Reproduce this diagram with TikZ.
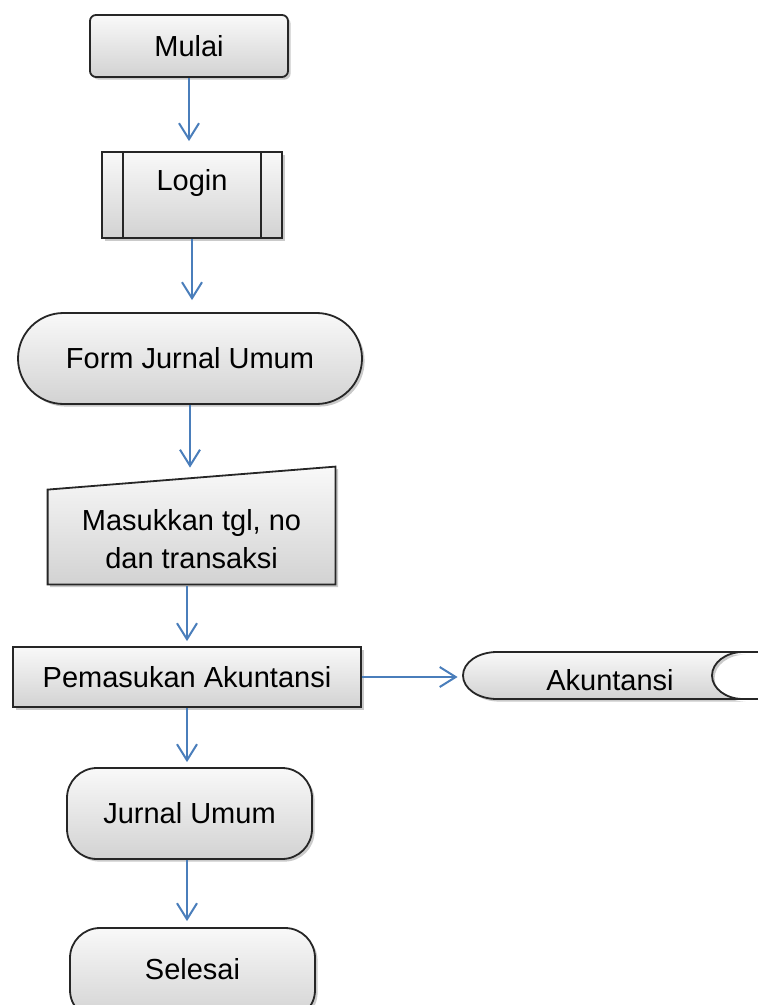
\documentclass[tikz,border=0pt]{standalone}
\usepackage{fontspec}
\setmainfont{Liberation Sans}
\usetikzlibrary{arrows.meta,shapes.misc,shadows,backgrounds,calc}
\definecolor{arrblue}{RGB}{74,126,187}
\begin{document}
\begin{tikzpicture}[x=0.5pt,y=-0.5pt,
  shapefill/.style={top color=gray!5, bottom color=gray!35,
    drop shadow={shadow xshift=1.3pt,shadow yshift=-1.3pt,opacity=0.35,fill=black!60}},
  outline/.style={draw=black!85, line width=0.9pt},
  txt/.style={font=\fontsize{14.5}{19}\selectfont, align=center, inner sep=0pt},
  box/.style={shapefill, outline, txt},
  arr/.style={draw=arrblue, line width=1pt,
    -{Straight Barb[length=8pt,width=10pt,line width=1pt]}}]
\useasboundingbox (0,0) rectangle (757,1005);

% nodes
\node[box, rounded corners=3pt, minimum width=99pt, minimum height=31pt] (mulai) at (189,46) {Mulai};
\node[box, minimum width=90pt, minimum height=43pt, text depth=15pt] (login) at (192,195) {Login};
\draw[outline] ([xshift=11pt]login.north west) -- ([xshift=11pt]login.south west);
\draw[outline] ([xshift=-11pt]login.north east) -- ([xshift=-11pt]login.south east);
\node[box, rounded rectangle, minimum width=172pt, minimum height=45.5pt] (form) at (190,358.5) {Form Jurnal Umum};

\node[txt, minimum width=143.5pt, minimum height=47pt] (input) at (191.5,539) {Masukkan tgl, no\\dan transaksi};
\begin{scope}[on background layer]
  \path[shapefill, outline] ($(input.north west)+(0,-2)$) -- ($(input.north east)+(0,-25)$) -- ($(input.south east)+(0,-2)$) -- ($(input.south west)+(0,-2)$) -- cycle;
\end{scope}

\node[box, minimum width=174pt, minimum height=30pt] (pem) at (187,677) {Pemasukan Akuntansi};

\node[txt, minimum width=147pt, minimum height=23.5pt, text height=15pt] (akun) at (610,675.5) {Akuntansi};
\begin{scope}[on background layer]
  \path[shapefill] (497,652) -- (743,652)
    .. controls (726,652) and (712,662.5) .. (712,675.5)
    .. controls (712,688.5) and (726,699) .. (743,699)
    -- (497,699)
    .. controls (478,699) and (463,688.5) .. (463,675.5)
    .. controls (463,662.5) and (478,652) .. (497,652) -- cycle;
  \draw[outline] (780,652) -- (497,652)
    .. controls (478,652) and (463,662.5) .. (463,675.5)
    .. controls (463,688.5) and (478,699) .. (497,699) -- (780,699);
  \draw[outline] (743,652)
    .. controls (726,652) and (712,662.5) .. (712,675.5)
    .. controls (712,688.5) and (726,699) .. (743,699);
\end{scope}

\node[box, rounded corners=15pt, minimum width=122.5pt, minimum height=45.5pt] (jurnal) at (189.5,813.5) {Jurnal Umum};
\node[box, rounded corners=15pt, minimum width=122.5pt, minimum height=46pt, text depth=5pt] (selesai) at (192.5,974) {Selesai};

% connectors
\draw[arr, shorten >=5pt] (mulai.south) -- (mulai.south |- login.north);
\draw[arr, shorten >=6pt] (login.south) -- (login.south |- form.north);
\draw[arr, shorten >=12pt] (form.south) -- (form.south |- input.north);
\draw[arr, shorten >=2.5pt] (input.south -| pem.north) -- (pem.north);
\draw[arr, shorten >=2.5pt] (pem.east) -- (pem.east -| akun.west);
\draw[arr, shorten >=2.5pt] (pem.south) -- (pem.south |- jurnal.north);
\draw[arr, shorten >=3pt] (jurnal.south -| pem.south) -- (pem.south |- selesai.north);
\end{tikzpicture}
\end{document}
